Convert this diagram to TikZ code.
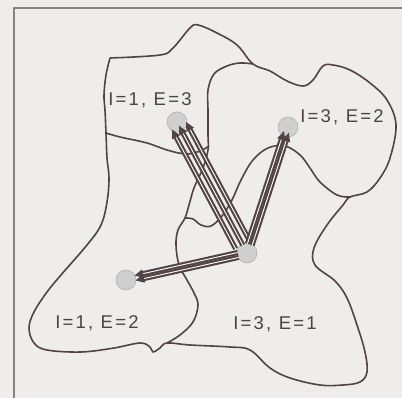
\documentclass[tikz,border=0pt]{standalone}
\usepackage{fontspec}
\newfontfamily\lblfont[LetterSpace=12]{Liberation Sans}
\usetikzlibrary{arrows.meta,calc}
\definecolor{ink}{HTML}{534444}
\definecolor{bg}{HTML}{EEEDEC}
\definecolor{dotfill}{HTML}{CFCFCF}
\definecolor{txt}{HTML}{4A4444}
\definecolor{framec}{HTML}{8A8282}
\begin{document}
\begin{tikzpicture}[x=1pt,y=-1pt,
 boundary/.style={draw=ink, line width=1.6pt, line join=round, smooth, tension=0.6},
 state/.style={circle, fill=dotfill, draw=gray!60, line width=0.6pt, minimum size=20pt, inner sep=0pt},
 lbl/.style={text=txt, font=\lblfont\fontsize{18.5}{21}\selectfont, inner sep=0pt, anchor=base},
 move/.style={draw=ink, line width=2.1pt, double=white, double distance=0.9pt,
   -{Triangle[length=9pt,width=8pt]}}]
\fill[bg] (0,0) rectangle (402,398);
\useasboundingbox (0,0) rectangle (402,398);
\draw[framec, line width=1.6pt] (14,398) -- (14,8) -- (402,8);

% outer boundary
\draw[boundary] plot coordinates {
 (110,58) (160,55) (173,48) (190,28) (198,25) (217,33) (237,45) (253,64)
 (270,71) (287,81) (303,86) (313,80) (323,66) (333,65) (350,70) (370,83)
 (387,100) (396,125) (390,158) (380,178) (367,192) (350,197) (343,205)
 (327,225) (314,248) (315,265) (335,281) (347,298) (357,325) (365,352)
 (367,372) (360,382) (343,385) (320,385) (290,378) (270,368) (250,350)
 (230,347) (190,345) (167,343) (160,348) (153,352) (150,347) (140,343)
 (114,348) (81,352) (47,350) (34,343) (29,328) (34,312) (47,292) (61,275)
 (87,245) (101,225) (107,202) (109,178) (107,158) (106,133) (105,110)
 (104,95) (106,75) (110,58)};
% inner boundaries
\draw[boundary] plot coordinates {(106,133) (120,137) (147,143) (167,150) (186,154) (200,151) (209,146)};
\draw[boundary] plot coordinates {
 (253,64) (240,63) (227,66) (214,74) (208,90) (208,110) (208,135) (208,150)
 (203,168) (194,188) (189,205) (185,218) (178,230) (176,245) (179,265)
 (187,280) (194,293) (198,305) (193,322) (180,335) (167,343)};
\draw[boundary] plot coordinates {
 (350,197) (337,195) (320,182) (310,168) (300,155) (285,146) (268,148)
 (253,160) (241,180) (232,200) (222,216) (211,226) (201,225) (193,219) (185,218)};

% states
\node[state] (A) at (177,122) {};
\node[state] (B) at (288,127) {};
\node[state] (C) at (247,253) {};
\node[state] (D) at (126,280) {};

% moves
\foreach \o in {-8,0,8}{
 \draw[move, shorten <=9pt, shorten >=4pt] ($(C)!\o pt!90:(A)$) -- ($(A)!\o pt!-90:(C)$);}
\foreach \o in {-2.5,2.5}{
 \draw[move, shorten <=9pt, shorten >=5pt] ($(C)!\o pt!90:(B)$) -- ($(B)!\o pt!-90:(C)$);
 \draw[move, shorten <=9pt, shorten >=9pt] ($(C)!\o pt!90:(D)$) -- ($(D)!\o pt!-90:(C)$);}

% labels
\node[lbl] (la) at (150,106) {I=1, E=3};
\node[lbl] (lb) at (342,123) {I=3, E=2};
\node[lbl] (lc) at (97,329) {I=1, E=2};
\node[lbl] (ld) at (275,330) {I=3, E=1};
\end{tikzpicture}
\end{document}
